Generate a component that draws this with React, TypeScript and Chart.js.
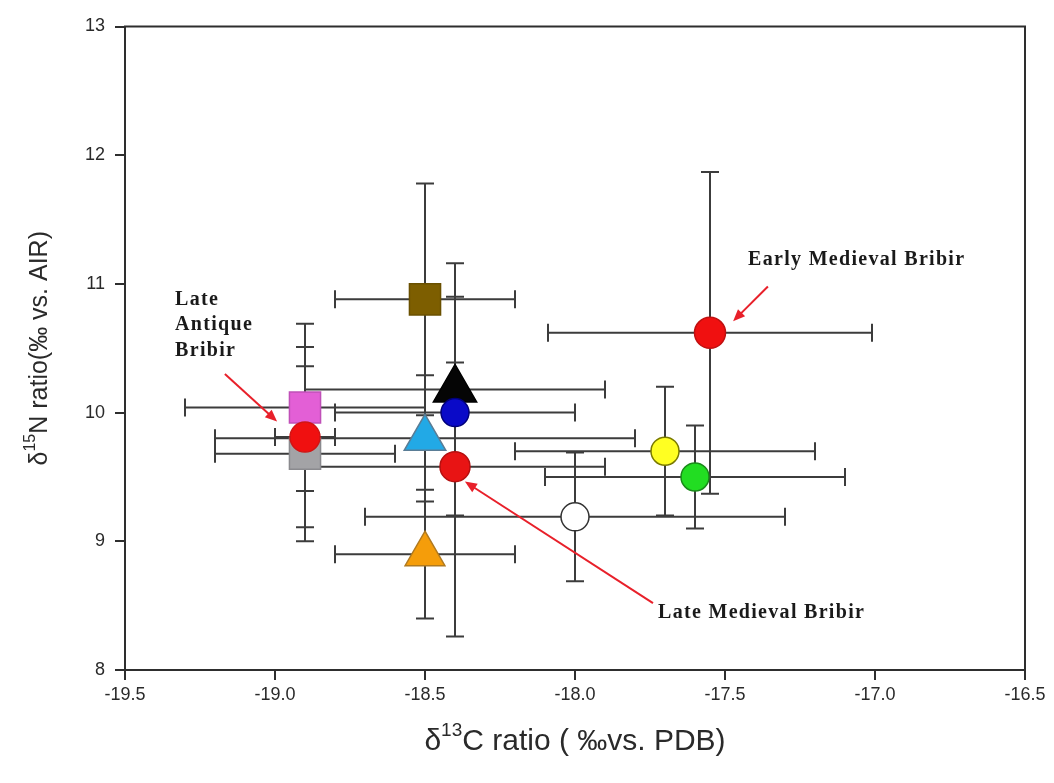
import React, { useEffect, useRef } from 'react';
import { Chart, registerables } from 'chart.js';

Chart.register(...registerables);

// ---- data (one entry per sample group) ----
const groupNames = [
  'Brown square', 'Pink square', 'Gray square', 'Late Antique Bribir',
  'Black triangle', 'Blue circle', 'Late Medieval Bribir', 'Cyan triangle',
  'Orange triangle', 'White circle', 'Yellow circle', 'Green circle', 'Early Medieval Bribir',
];
const d13C = [-18.5, -18.9, -18.9, -18.9, -18.4, -18.4, -18.4, -18.5, -18.5, -18.0, -17.7, -17.6, -17.55];
const d15N = [10.88, 10.04, 9.68, 9.81, 10.18, 10.0, 9.58, 9.8, 8.9, 9.19, 9.7, 9.5, 10.62];
const d13CErr = [0.3, 0.4, 0.3, 0.1, 0.5, 0.4, 0.5, 0.7, 0.3, 0.7, 0.5, 0.5, 0.54];
const d15NErr = [0.9, 0.65, 0.68, 0.7, 0.98, 0.39, 1.32, 0.49, 0.5, 0.5, 0.5, 0.4, 1.25];

const xTickValues = [-19.5, -19.0, -18.5, -18.0, -17.5, -17.0, -16.5];
const yTickValues = [8, 9, 10, 11, 12, 13];

// ---- styles ----
const markerStyles = ['rect', 'rect', 'rect', 'circle', 'triangle', 'circle', 'circle', 'triangle', 'triangle', 'circle', 'circle', 'circle', 'circle'];
const markerRadii = [22, 22, 22, 15, 25, 14, 15, 24, 23, 14, 14, 14, 15.5];
const markerFill = ['#7d5e00', '#e35fd6', '#a3a3a6', '#f01010', '#050505', '#0a0ac8', '#e81414', '#22a9e6', '#f59d0a', '#ffffff', '#ffff22', '#22dd22', '#f01010'];
const markerEdge = ['#6a5000', '#c050b8', '#8a8a8e', '#d01515', '#000000', '#00007a', '#b51010', '#5a7d96', '#b07a20', '#333333', '#7a7a00', '#1a8a1a', '#c01010'];

// annotation text and arrows placed in data units
const annotations = [
  { lines: ['Late', 'Antique', 'Bribir'], at: [-19.333, 10.88], lineGap: 0.2, from: [-19.167, 10.3], to: [-18.993, 9.93] },
  { lines: ['Late Medieval Bribir'], at: [-17.723, 8.447], lineGap: 0.2, from: [-17.74, 8.52], to: [-18.367, 9.464] },
  { lines: ['Early Medieval Bribir'], at: [-17.423, 11.19], lineGap: 0.2, from: [-17.357, 10.98], to: [-17.473, 10.71] },
];

const AXIS_COLOR = '#2e2e2e';
const BAR_COLOR = '#3c3c3c';
const TEXT_COLOR = '#2a2a2a';
const SANS = '"Liberation Sans", Arial, sans-serif';
const SERIF = '"Liberation Serif", "Times New Roman", serif';

function drawRich(ctx: CanvasRenderingContext2D, parts: { t: string; sup?: boolean }[], size: number, cx: number, cy: number, rotate: boolean) {
  ctx.save();
  const widths = parts.map((p) => {
    ctx.font = `${p.sup ? Math.round(size * 0.62) : size}px ${SANS}`;
    return ctx.measureText(p.t).width;
  });
  const total = widths.reduce((a, b) => a + b, 0);
  ctx.translate(cx, cy);
  if (rotate) ctx.rotate(-Math.PI / 2);
  ctx.fillStyle = TEXT_COLOR;
  ctx.textBaseline = 'middle';
  ctx.textAlign = 'left';
  let x = -total / 2;
  parts.forEach((p, i) => {
    ctx.font = `${p.sup ? Math.round(size * 0.62) : size}px ${SANS}`;
    ctx.fillText(p.t, x, p.sup ? -size * 0.38 : 0);
    x += widths[i];
  });
  ctx.restore();
}

const decorPlugin = {
  id: 'decor',
  beforeDatasetsDraw(chart: any) {
    const { ctx, chartArea: a, scales } = chart;
    const xs = scales.x;
    const ys = scales.y;
    ctx.save();
    // frame
    ctx.strokeStyle = AXIS_COLOR;
    ctx.lineWidth = 2;
    ctx.strokeRect(a.left, a.top, a.right - a.left, a.bottom - a.top);
    // error bars
    ctx.strokeStyle = BAR_COLOR;
    ctx.lineWidth = 2;
    const cap = 9;
    for (let i = 0; i < d13C.length; i++) {
      const px = xs.getPixelForValue(d13C[i]);
      const py = ys.getPixelForValue(d15N[i]);
      const xl = xs.getPixelForValue(d13C[i] - d13CErr[i]);
      const xr = xs.getPixelForValue(d13C[i] + d13CErr[i]);
      const yt = ys.getPixelForValue(d15N[i] + d15NErr[i]);
      const yb = ys.getPixelForValue(d15N[i] - d15NErr[i]);
      ctx.beginPath();
      ctx.moveTo(xl, py); ctx.lineTo(xr, py);
      ctx.moveTo(xl, py - cap); ctx.lineTo(xl, py + cap);
      ctx.moveTo(xr, py - cap); ctx.lineTo(xr, py + cap);
      ctx.moveTo(px, yt); ctx.lineTo(px, yb);
      ctx.moveTo(px - cap, yt); ctx.lineTo(px + cap, yt);
      ctx.moveTo(px - cap, yb); ctx.lineTo(px + cap, yb);
      ctx.stroke();
    }
    ctx.restore();
  },
  afterDraw(chart: any) {
    const { ctx, chartArea: a, scales } = chart;
    const xs = scales.x;
    const ys = scales.y;
    // axis titles
    drawRich(ctx, [{ t: '\u03B4' }, { t: '13', sup: true }, { t: 'C ratio ( \u2030vs. PDB)' }], 30, (a.left + a.right) / 2, 742, false);
    drawRich(ctx, [{ t: '\u03B4' }, { t: '15', sup: true }, { t: 'N ratio(\u2030 vs. AIR)' }], 25, 40, (a.top + a.bottom) / 2, true);
    // annotations
    ctx.save();
    ctx.font = `bold 20px ${SERIF}`;
    (ctx as any).letterSpacing = '1.3px';
    ctx.textBaseline = 'middle';
    ctx.textAlign = 'left';
    annotations.forEach((an) => {
      ctx.fillStyle = '#1a1a1a';
      const x0 = xs.getPixelForValue(an.at[0]);
      an.lines.forEach((ln, k) => {
        const y0 = ys.getPixelForValue(an.at[1] - k * an.lineGap);
        ctx.fillText(ln, x0, y0);
      });
      const fx = xs.getPixelForValue(an.from[0]);
      const fy = ys.getPixelForValue(an.from[1]);
      const tx = xs.getPixelForValue(an.to[0]);
      const ty = ys.getPixelForValue(an.to[1]);
      ctx.strokeStyle = '#e8202a';
      ctx.fillStyle = '#e8202a';
      ctx.lineWidth = 2;
      const ang = Math.atan2(ty - fy, tx - fx);
      const head = 13;
      ctx.beginPath();
      ctx.moveTo(fx, fy);
      ctx.lineTo(tx - Math.cos(ang) * head * 0.8, ty - Math.sin(ang) * head * 0.8);
      ctx.stroke();
      ctx.beginPath();
      ctx.moveTo(tx, ty);
      ctx.lineTo(tx - Math.cos(ang - 0.4) * head, ty - Math.sin(ang - 0.4) * head);
      ctx.lineTo(tx - Math.cos(ang + 0.4) * head, ty - Math.sin(ang + 0.4) * head);
      ctx.closePath();
      ctx.fill();
    });
    ctx.restore();
  },
};

export default function App() {
  const ref = useRef<HTMLCanvasElement>(null);
  useEffect(() => {
    if (!ref.current) return;
    const chart = new Chart(ref.current, {
      type: 'scatter',
      data: {
        datasets: [
          {
            label: 'samples',
            data: d13C.map((x, i) => ({ x, y: d15N[i] })),
            pointStyle: markerStyles as any,
            pointRadius: markerRadii,
            pointHoverRadius: markerRadii,
            backgroundColor: markerFill,
            borderColor: markerEdge,
            pointBorderWidth: 1.5,
          },
        ],
      },
      options: {
        responsive: false,
        animation: false,
        events: [],
        layout: { padding: { left: 0, top: 21, right: 29, bottom: 0 } },
        plugins: { legend: { display: false }, tooltip: { enabled: false }, title: { display: false } },
        scales: {
          x: {
            type: 'linear',
            min: -19.5,
            max: -16.5,
            afterBuildTicks: (s: any) => { s.ticks = xTickValues.map((v) => ({ value: v })); },
            afterFit: (s: any) => { s.height = 113; },
            ticks: {
              color: TEXT_COLOR,
              font: { family: SANS, size: 18 },
              padding: 4,
              maxRotation: 0,
              autoSkip: false,
              callback: (v: any) => Number(v).toFixed(1),
            },
            grid: { drawOnChartArea: false, drawTicks: true, tickLength: 10, color: AXIS_COLOR, lineWidth: 2 },
            border: { display: true, color: AXIS_COLOR, width: 2 },
          },
          y: {
            type: 'linear',
            min: 8,
            max: 13,
            afterBuildTicks: (s: any) => { s.ticks = yTickValues.map((v) => ({ value: v })); },
            afterFit: (s: any) => { s.width = 125; },
            ticks: {
              color: TEXT_COLOR,
              font: { family: SANS, size: 18 },
              padding: 10,
              autoSkip: false,
              callback: (v: any) => String(v),
            },
            grid: { drawOnChartArea: false, drawTicks: true, tickLength: 10, color: AXIS_COLOR, lineWidth: 2 },
            border: { display: true, color: AXIS_COLOR, width: 2 },
          },
        },
      },
      plugins: [decorPlugin],
    });
    return () => chart.destroy();
  }, []);
  return (
    <div style={{ position: 'absolute', left: 0, top: 0, width: 1054, height: 783, background: '#fff' }}>
      <canvas ref={ref} width={1054} height={783} style={{ display: 'block' }} aria-label={groupNames.join(', ')} />
    </div>
  );
}
